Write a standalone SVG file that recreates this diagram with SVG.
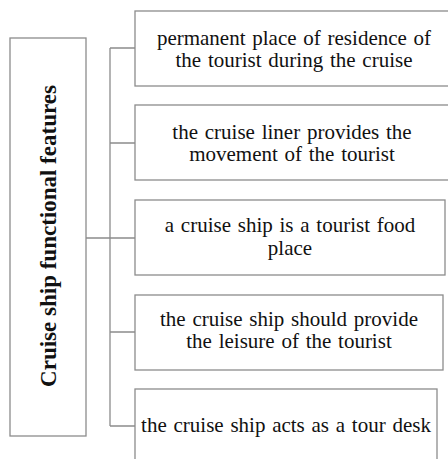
<svg xmlns="http://www.w3.org/2000/svg" width="448" height="459" viewBox="0 0 448 459">
<rect width="448" height="459" fill="#fff"/>
<g id="connectors" fill="none" stroke="#8c8c8c" stroke-width="1.3">
<path d="M86 238H110M110 48V426M110 48H135M110 143H135M110 238H135M110 332H135M110 426H135"/>
</g>
<g id="main">
<rect x="10" y="38" width="76" height="398" fill="#fff" stroke="#8c8c8c" stroke-width="1.3"/>
<text font-family="serif" font-size="23" font-weight="bold" fill="#111" text-anchor="middle" transform="translate(56,236) rotate(-90)">Cruise ship functional features</text>
</g>
<g id="n1">
<rect x="135" y="11" width="320" height="75" fill="#fff" stroke="#8c8c8c" stroke-width="1.3"/>
<text x="294" y="45" font-family="serif" font-size="21" fill="#111" text-anchor="middle" word-spacing="1.5">permanent place of residence of</text>
<text x="294" y="67" font-family="serif" font-size="21" fill="#111" text-anchor="middle" word-spacing="1.5">the tourist during the cruise</text>
</g>
<g id="n2">
<rect x="135" y="105" width="320" height="75" fill="#fff" stroke="#8c8c8c" stroke-width="1.3"/>
<text x="292" y="139" font-family="serif" font-size="21" fill="#111" text-anchor="middle" word-spacing="1.5">the cruise liner provides the</text>
<text x="292" y="161" font-family="serif" font-size="21" fill="#111" text-anchor="middle" word-spacing="1.5">movement of the tourist</text>
</g>
<g id="n3">
<rect x="135" y="200" width="310" height="75" fill="#fff" stroke="#8c8c8c" stroke-width="1.3"/>
<text x="290" y="232" font-family="serif" font-size="21" fill="#111" text-anchor="middle" word-spacing="1.5">a cruise ship is a tourist food</text>
<text x="290" y="255" font-family="serif" font-size="21" fill="#111" text-anchor="middle" word-spacing="1.5">place</text>
</g>
<g id="n4">
<rect x="135" y="295" width="308" height="75" fill="#fff" stroke="#8c8c8c" stroke-width="1.3"/>
<text x="289" y="326" font-family="serif" font-size="21" fill="#111" text-anchor="middle" word-spacing="1.5">the cruise ship should provide</text>
<text x="289" y="348" font-family="serif" font-size="21" fill="#111" text-anchor="middle" word-spacing="1.5">the leisure of the tourist</text>
</g>
<g id="n5">
<rect x="135" y="389" width="302" height="80" fill="#fff" stroke="#8c8c8c" stroke-width="1.3"/>
<text x="286" y="432" font-family="serif" font-size="21" fill="#111" text-anchor="middle" word-spacing="1.5">the cruise ship acts as a tour desk</text>
</g>
</svg>
